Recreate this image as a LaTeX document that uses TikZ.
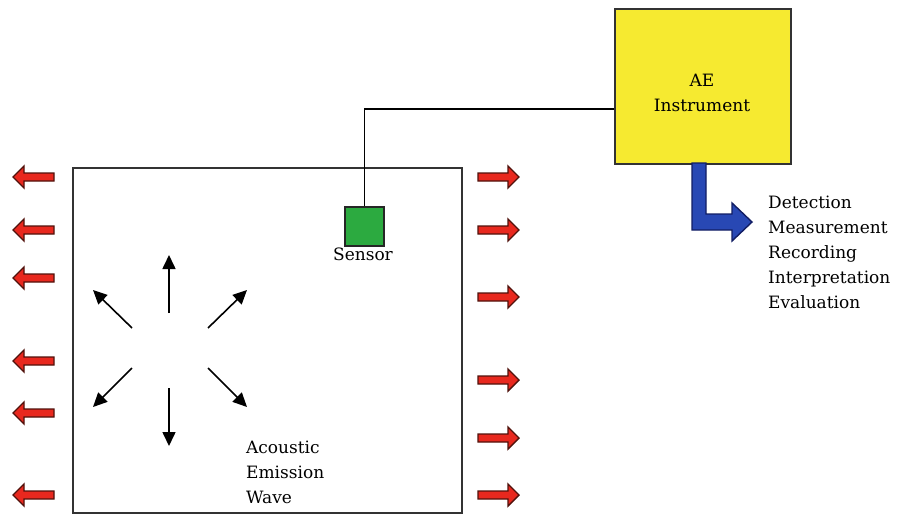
\documentclass[tikz,border=0pt]{standalone}
\usepackage{fontspec}
\setmainfont{DejaVu Serif}
\usetikzlibrary{arrows.meta}
\definecolor{aeyellow}{RGB}{246,234,48}
\definecolor{sgreen}{RGB}{44,170,64}
\definecolor{wred}{RGB}{232,40,30}
\definecolor{wredline}{RGB}{80,18,12}
\definecolor{ablue}{RGB}{40,72,180}
\definecolor{abluel}{RGB}{18,30,100}
\tikzset{
  boxline/.style={draw=black!80, line width=1.8pt},
  redarrow/.style={fill=wred, draw=wredline, line width=1.4pt, line join=miter},
  wavearrow/.style={line width=1.6pt, -{Triangle[length=14pt,width=13pt]}},
  lbl/.style={font=\fontsize{17}{25}\selectfont, inner sep=0pt},
}
\newcommand\redleft[1]{\path[redarrow] (54,#1-4) -- (24,#1-4) -- (24,#1-11) -- (13,#1) -- (24,#1+11) -- (24,#1+4) -- (54,#1+4) -- cycle;}
\newcommand\redright[1]{\path[redarrow] (478,#1-4) -- (508,#1-4) -- (508,#1-11) -- (519,#1) -- (508,#1+11) -- (508,#1+4) -- (478,#1+4) -- cycle;}
\begin{document}
\begin{tikzpicture}[x=1pt,y=-1pt]
\useasboundingbox[fill=white] (0,0) rectangle (899,516);
% plate
\node[boxline, minimum width=389pt, minimum height=345pt, anchor=north west, inner sep=0pt] (plate) at (72,167) {};
% AE instrument
\node[boxline, fill=aeyellow, minimum width=176pt, minimum height=155pt, anchor=north west, inner sep=0pt] (ae) at (614,8) {};
\node[lbl, align=center] (aetext) at (702,93) {AE\\Instrument};
% sensor
\node[draw=black!85, line width=1.6pt, fill=sgreen, minimum size=39pt, anchor=north west, inner sep=0pt] (sensor) at (344,206) {};
\node[lbl] (sensorlbl) at (363,254) {Sensor};
\coordinate (w) at (614,109);
\draw[line width=1.6pt] (sensor.north) |- (w);
% blue output arrow
\path[fill=ablue, draw=abluel, line width=1.4pt, line join=miter]
  (692,163) -- (692,230) -- (732,230) -- (732,241) -- (752,222) -- (732,203) -- (732,214) -- (706,214) -- (706,163) -- cycle;
\node[lbl, anchor=north west, align=left] (outs) at (768,196) {Detection\\Measurement\\Recording\\Interpretation\\Evaluation};
% red arrows
\redleft{177}\redleft{230}\redleft{278}\redleft{361}\redleft{413}\redleft{495}
\redright{177}\redright{230}\redright{297}\redright{380}\redright{438}\redright{495}
% wave arrows
\draw[wavearrow] (169,313) -- (169,255);
\draw[wavearrow] (169,388) -- (169,446);
\draw[wavearrow] (132,328) -- (93,290);
\draw[wavearrow] (208,328) -- (247,290);
\draw[wavearrow] (132,368) -- (93,407);
\draw[wavearrow] (208,368) -- (247,407);
\node[lbl, anchor=west, align=left] (wave) at (246,472) {Acoustic\\Emission\\Wave};
\end{tikzpicture}
\end{document}
